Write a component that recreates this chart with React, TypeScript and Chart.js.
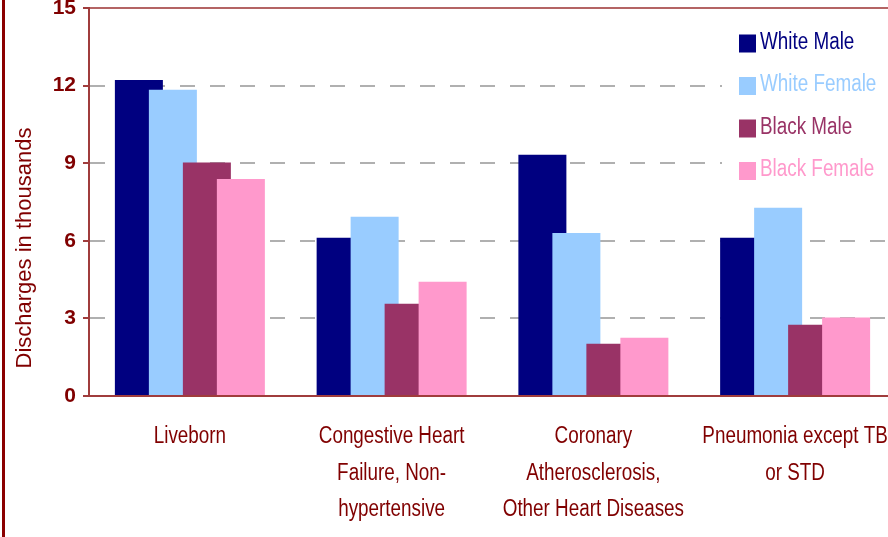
import React, { useEffect, useRef } from 'react';
import { Chart, registerables } from 'chart.js';

Chart.register(...registerables);

const categories: (string | string[])[] = [
  'Liveborn',
  ['Congestive Heart', 'Failure, Non-', 'hypertensive'],
  ['Coronary', 'Atherosclerosis,', 'Other Heart Diseases'],
  ['Pneumonia except TB', 'or STD'],
];
const whiteMale = [12.22, 6.12, 9.33, 6.12];
const whiteFemale = [11.84, 6.93, 6.3, 7.28];
const blackMale = [9.03, 3.57, 2.02, 2.75];
const blackFemale = [8.39, 4.42, 2.25, 3.03];
const seriesNames = ['White Male', 'White Female', 'Black Male', 'Black Female'];
const seriesColors = ['#000080', '#99ccff', '#993366', '#ff99cc'];
const yMin = 0;
const yMax = 15;
const yStep = 3;
const yTitle = 'Discharges in thousands';

const SANS = "'Liberation Sans', Arial, sans-serif";
const NARROW_SCALE = 0.82;
const TEXT_RED = '#800000';
const AXIS_RED = '#a03c3c';

function narrowText(ctx: CanvasRenderingContext2D, text: string, x: number, y: number, align: CanvasTextAlign, rot = 0, sx = NARROW_SCALE) {
  ctx.save();
  ctx.translate(x, y);
  if (rot) ctx.rotate(rot);
  ctx.scale(sx, 1);
  ctx.textAlign = align;
  ctx.fillText(text, 0, 0);
  ctx.restore();
}

const drawInOrder = {
  id: 'drawInOrder',
  beforeDatasetsDraw(chart: any) {
    for (let i = 0; i < chart.data.datasets.length; i++) {
      const meta = chart.getDatasetMeta(i);
      if (meta.visible !== false) meta.controller.draw();
    }
    return false;
  },
};

const decor = {
  id: 'decor',
  afterDraw(chart: any) {
    const ctx: CanvasRenderingContext2D = chart.ctx;
    const xs = chart.scales.x;
    const ys = chart.scales.y;
    ctx.save();
    // left frame line
    ctx.fillStyle = '#8b0000';
    ctx.fillRect(2, 0, 3, chart.height);

    ctx.textBaseline = 'middle';

    // category labels (narrow)
    ctx.font = `23px ${SANS}`;
    ctx.fillStyle = TEXT_RED;
    const lineH = 36.7;
    const firstY = ys.getPixelForValue(yMin) + 40.5;
    (chart.data.labels as (string | string[])[]).forEach((lab, i) => {
      const lines = Array.isArray(lab) ? lab : [lab];
      const x = xs.getPixelForValue(i);
      lines.forEach((ln, k) => narrowText(ctx, ln, x, firstY + k * lineH, 'center'));
    });

    // y axis title (rotated)
    ctx.font = `22px ${SANS}`;
    narrowText(ctx, yTitle, 25, 248, 'center', -Math.PI / 2, 1);

    // legend box + entries
    ctx.fillStyle = '#ffffff';
    ctx.fillRect(722, 18, chart.width - 722, 176);
    ctx.font = `23px ${SANS}`;
    const rows = [43.5, 86, 128.5, 171];
    chart.data.datasets.forEach((ds: any, i: number) => {
      const y = rows[i];
      ctx.fillStyle = ds.backgroundColor;
      ctx.fillRect(739, y - 9, 17, 18);
      narrowText(ctx, ds.label, 760, y - 1, 'left');
    });
    ctx.restore();
  },
};

export default function App() {
  const ref = useRef<HTMLCanvasElement | null>(null);

  useEffect(() => {
    if (!ref.current) return;
    const data = [whiteMale, whiteFemale, blackMale, blackFemale];
    const chart = new Chart(ref.current, {
      type: 'bar',
      data: {
        labels: categories,
        datasets: data.map((d, i) => ({
          label: seriesNames[i],
          data: d,
          backgroundColor: seriesColors[i],
          borderWidth: 0,
          categoryPercentage: 0.674,
          barPercentage: 1.412,
        })),
      },
      options: {
        responsive: false,
        animation: false,
        devicePixelRatio: 1,
        layout: { padding: { left: 0, right: 0, top: 0, bottom: 0 } },
        plugins: {
          legend: { display: false },
          tooltip: { enabled: false },
        },
        scales: {
          x: {
            grid: { display: false, drawTicks: false },
            border: { display: true, color: AXIS_RED, width: 2 },
            ticks: { display: false },
            afterFit(scale: any) {
              scale.height = 141;
              scale.paddingLeft = 0;
              scale.paddingRight = 0;
            },
          },
          y: {
            min: yMin,
            max: yMax,
            ticks: {
              stepSize: yStep,
              color: TEXT_RED,
              font: { family: SANS, size: 21, weight: 'bold', lineHeight: 1 },
              padding: 7,
            },
            grid: {
              color: (c: any) => (c.tick && c.tick.value === yMax ? '#b46464' : '#b0b0b0'),
              lineWidth: 2,
              tickColor: AXIS_RED,
              tickLength: 6,
              tickWidth: 2,
              tickBorderDash: [],
            },
            border: {
              display: true,
              color: AXIS_RED,
              width: 2,
              dash: (c: any) => (c.tick && c.tick.value === yMax ? [] : [15, 15]),
            },
            title: { display: false },
            afterFit(scale: any) {
              scale.width = 89;
              scale.paddingTop = 8;
              scale.paddingBottom = 0;
            },
          },
        },
      },
      plugins: [drawInOrder, decor],
    });
    return () => chart.destroy();
  }, []);

  return (
    <div
      style={{
        position: 'fixed',
        left: 0,
        top: 0,
        width: 888,
        height: 537,
        overflow: 'hidden',
        background: '#fff',
      }}
    >
      <canvas ref={ref} width={896} height={537} style={{ display: 'block' }} />
    </div>
  );
}
